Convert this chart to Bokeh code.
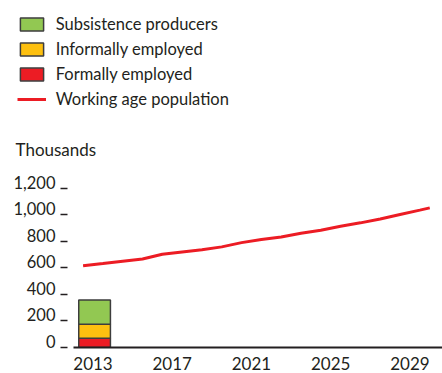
from bokeh.plotting import figure
from bokeh.layouts import column
from bokeh.models import (Range1d, FixedTicker, NumeralTickFormatter, Legend,
                          LegendItem, Label, ColumnDataSource)
from bokeh.transform import dodge
from bokeh.embed import file_html
from bokeh.resources import INLINE

# ---- data ----
bar_year = [2013]
formally_employed = [70]
informally_employed = [105]
subsistence_producers = [182]

line_years = [2012.5, 2013.5, 2014.5, 2015.5, 2016.5, 2017.5, 2018.5, 2019.5,
              2020.5, 2021.5, 2022.5, 2023.5, 2024.5, 2025.5, 2026.5, 2027.5,
              2028.5, 2029.5, 2030.0]
working_age_population = [615, 632, 650, 667, 702, 720, 736, 758, 790, 814,
                          833, 861, 883, 914, 939, 968, 1002, 1035, 1052]

x_ticks = [2013, 2017, 2021, 2025, 2029]
y_ticks = [0, 200, 400, 600, 800, 1000, 1200]
y_tick_labels = ["0", "200", "400", "600", "800", "1,000", "1,200"]
series_labels = ["Subsistence producers", "Informally employed",
                 "Formally employed", "Working age population"]
unit_label = "Thousands"

GREEN = "#92c852"
YELLOW = "#fdc010"
RED = "#ec1c24"
EDGE = "#3d3d3d"
TEXT = "#231f20"
FONT = "Lato"

src = ColumnDataSource(dict(year=bar_year, formal=formally_employed,
                            informal=informally_employed,
                            subsistence=subsistence_producers))
line_src = ColumnDataSource(dict(year=line_years, pop=working_age_population))

x_range = Range1d(2012.016, 2030.643)


def styled(fig):
    fig.outline_line_color = None
    fig.background_fill_color = None
    fig.border_fill_color = None
    fig.grid.visible = False


# ---------- top strip: legend + unit label ----------
top = figure(width=442, height=165, output_backend="svg", toolbar_location=None,
             x_range=x_range, y_range=Range1d(0, 1371),
             x_axis_location=None, y_axis_location=None, frame_align=False,
             min_border_left=0, min_border_right=0, min_border_top=0,
             min_border_bottom=0)
styled(top)
# legend keys: same series and styles; hidden renderers, only their swatches show
key_bars = top.vbar_stack(["formal", "informal", "subsistence"], x="year",
                          width=1.6, source=src, fill_color=[RED, YELLOW, GREEN],
                          line_color=EDGE, line_width=1.5)
key_line = top.line("year", "pop", source=line_src, line_color=RED, line_width=3)
for r in list(key_bars) + [key_line]:
    r.visible = False

legend = Legend(items=[
    LegendItem(label=series_labels[0], renderers=[key_bars[2]]),
    LegendItem(label=series_labels[1], renderers=[key_bars[1]]),
    LegendItem(label=series_labels[2], renderers=[key_bars[0]]),
    LegendItem(label=series_labels[3], renderers=[key_line]),
], location=(16.7, 56))
legend.click_policy = "none"
legend.inactive_fill_alpha = 0
legend.background_fill_alpha = 0
legend.border_line_alpha = 0
legend.padding = 0
legend.margin = 0
legend.spacing = 5
legend.glyph_width = 29
legend.glyph_height = 16
legend.label_standoff = 10
legend.label_text_font = FONT
legend.label_text_font_size = "16.5px"
legend.label_text_color = TEXT
top.add_layout(legend)

top.add_layout(Label(x=15, y=16, x_units="screen", y_units="screen",
                     text=unit_label, text_font=FONT, text_font_size="17px",
                     text_color=TEXT, text_baseline="middle"))

# ---------- main chart ----------
p = figure(width=442, height=208, output_backend="svg", toolbar_location=None,
           x_range=x_range, y_range=Range1d(0, 1371),
           frame_align=False,
           min_border_left=73, min_border_right=0, min_border_top=0,
           min_border_bottom=26)
styled(p)

p.vbar_stack(["formal", "informal", "subsistence"],
             x=dodge("year", 0.08), width=1.6, source=src,
             fill_color=[RED, YELLOW, GREEN], line_color=EDGE, line_width=1.5)
p.line("year", "pop", source=line_src, line_color=RED, line_width=3)

p.xaxis.ticker = FixedTicker(ticks=x_ticks)
p.xaxis.major_tick_line_color = None
p.xaxis.minor_tick_line_color = None
p.xaxis.axis_line_color = TEXT
p.xaxis.axis_line_width = 2
p.xaxis.major_label_standoff = 3
p.xaxis.major_label_text_font = FONT
p.xaxis.major_label_text_font_size = "17px"
p.xaxis.major_label_text_color = TEXT

# y axis: labels sit with their baseline on the tick
p.yaxis.ticker = FixedTicker(ticks=y_ticks)
p.yaxis.formatter = NumeralTickFormatter(format="0,0")
p.yaxis.major_label_overrides = {t: lab + "\n" for t, lab in zip(y_ticks, y_tick_labels)}
p.yaxis.major_label_text_line_height = 0.55
p.yaxis.axis_line_color = None
p.yaxis.minor_tick_line_color = None
p.yaxis.major_tick_in = -6
p.yaxis.major_tick_out = 13
p.yaxis.major_tick_line_color = TEXT
p.yaxis.major_tick_line_width = 1.5
p.yaxis.major_label_standoff = 5
p.yaxis.major_label_text_font = FONT
p.yaxis.major_label_text_font_size = "16.5px"
p.yaxis.major_label_text_color = TEXT

layout = column(top, p, spacing=0)
open("out.html", "w").write(file_html(layout, INLINE))
